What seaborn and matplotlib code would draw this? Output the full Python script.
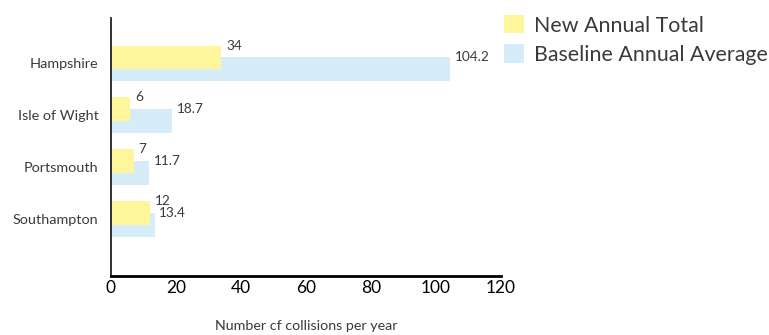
import matplotlib
matplotlib.use("Agg")
import matplotlib.pyplot as plt
import seaborn as sns
import numpy as np
from matplotlib.patches import Patch

# data
areas = ["Hampshire", "Isle of Wight", "Portsmouth", "Southampton"]
new_total = [34, 6, 7, 12]
baseline_avg = [104.2, 18.7, 11.7, 13.4]
series_names = ["New Annual Total", "Baseline Annual Average"]
x_ticks = [0, 20, 40, 60, 80, 100, 120]

YELLOW = "#FFF59B"
BLUE = "#D6ECF9"
TEXT = "#3a3a3a"

sns.set_style("white")
plt.rcParams["font.family"] = ["Lato", "DejaVu Sans"]

fig = plt.figure(figsize=(7.69, 3.35), dpi=100)
ax = fig.add_axes([0.1443, 0.1761, 0.5072, 0.7702])

idx = np.arange(len(areas))
shift = 0.11
bar_w = 0.46

# baseline behind, new total on top, shifted up a little
sns.barplot(x=baseline_avg, y=idx + shift, orient="h", native_scale=True,
            width=bar_w, color=BLUE, saturation=1, errorbar=None,
            linewidth=0, ax=ax)
sns.barplot(x=new_total, y=idx - shift, orient="h", native_scale=True,
            width=bar_w, color=YELLOW, saturation=1, errorbar=None,
            linewidth=0, ax=ax)

# value labels at the top edge of each bar
for vals, pos in [(new_total, idx - shift), (baseline_avg, idx + shift)]:
    for v, p in zip(vals, pos):
        ax.annotate(f"{v:g}", xy=(v, p - bar_w / 2), xytext=(3.5, 0),
                    textcoords="offset points", ha="left", va="center",
                    fontsize=9.8, color=TEXT)

ax.set_xlim(0, 120)
ax.set_ylim(4.1, -0.87)
ax.set_xticks(x_ticks)
ax.set_yticks(idx, areas)
ax.tick_params(axis="y", length=0, pad=9, labelsize=10.4, labelcolor=TEXT)
ax.tick_params(axis="x", direction="in", length=4, width=1, pad=3,
               labelsize=12.5, labelcolor="black")
ax.set_xlabel("Number cf collisions per year", fontsize=10.3, color=TEXT, labelpad=17)
ax.set_ylabel("")

sns.despine(ax=ax)
ax.spines["left"].set_color("#222222")
ax.spines["left"].set_linewidth(1.3)
ax.spines["bottom"].set_color("black")
ax.spines["bottom"].set_linewidth(2)

handles = [Patch(facecolor=YELLOW, edgecolor="none"), Patch(facecolor=BLUE, edgecolor="none")]
fig.legend(handles, series_names, loc="upper left", bbox_to_anchor=(0.636, 1.0),
           frameon=False, fontsize=15.4, handlelength=0.95, handleheight=0.95,
           handletextpad=0.45, labelspacing=0.4, borderaxespad=0.3,
           labelcolor=TEXT)

fig.savefig("out.png", dpi=100)
